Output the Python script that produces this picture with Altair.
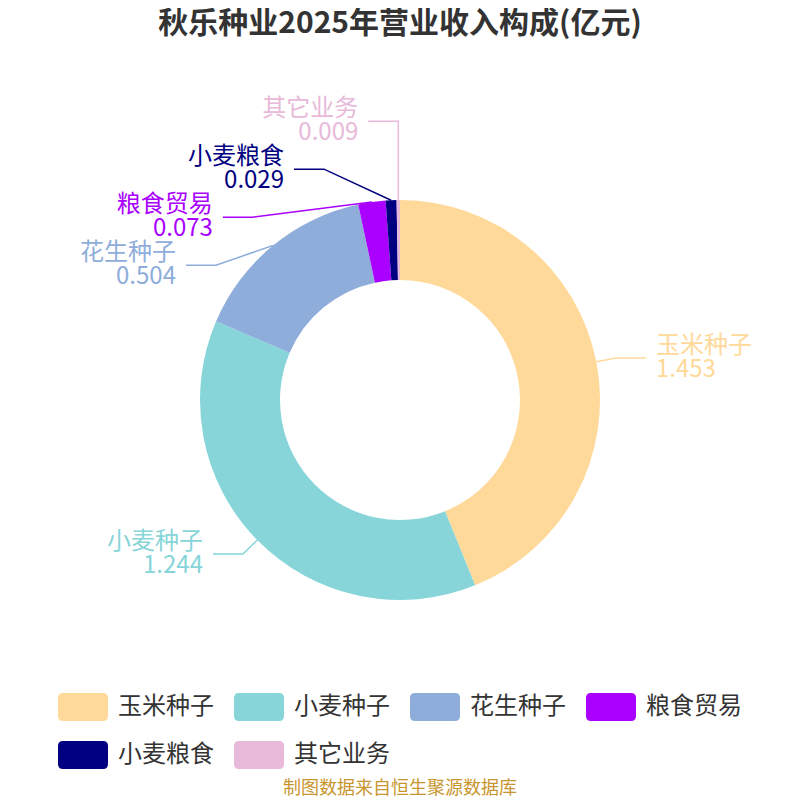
import math
import altair as alt
import pandas as pd

# ---- data ----
categories = ["玉米种子", "小麦种子", "花生种子", "粮食贸易", "小麦粮食", "其它业务"]
values = [1.453, 1.244, 0.504, 0.073, 0.029, 0.009]
colors = ["#FFD999", "#87D5D9", "#8EADDB", "#AA00FF", "#000080", "#E8B9D9"]
title_text = "秋乐种业2025年营业收入构成(亿元)"
source_text = "制图数据来自恒生聚源数据库"

FONT = "Noto Sans CJK SC"
W, H = 784, 792
CX, CY = 392, 392
R_OUT, R_IN = 200, 120
L1, L2, GAP = 20, 30, 10
LABEL_H = 48
ELL_A, ELL_B = 220, 246
FS = 24
LH = 24

df = pd.DataFrame({"cat": categories, "value": values, "idx": range(len(values))})

# ---- label layout (derived from the values) ----
total = sum(values)
cum = 0.0
items = []
for i, (c, v) in enumerate(zip(categories, values)):
    mid = (cum + v / 2) / total * 2 * math.pi
    cum += v
    sx, sy = math.sin(mid), -math.cos(mid)
    items.append({
        "cat": c, "idx": i, "label": f"{c}\n{v:.3f}",
        "side": "right" if sx >= 0 else "left",
        "x0": CX + R_OUT * sx, "y0": CY + R_OUT * sy,
        "xr": CX + (R_OUT + L1) * sx, "yn": CY + (R_OUT + L1) * sy,
    })

def shift(side_items):
    side_items.sort(key=lambda d: d["yn"])
    clusters = [[d] for d in side_items]
    def place(cl):
        m = sum(d["yn"] for d in cl) / len(cl)
        n = len(cl)
        for k, d in enumerate(cl):
            d["y"] = m + (k - (n - 1) / 2) * LABEL_H
    for cl in clusters:
        place(cl)
    merged = True
    while merged:
        merged = False
        for k in range(len(clusters) - 1):
            if clusters[k][-1]["y"] + LABEL_H > clusters[k + 1][0]["y"]:
                clusters[k] = clusters[k] + clusters[k + 1]
                del clusters[k + 1]
                place(clusters[k])
                merged = True
                break

for s in ("left", "right"):
    shift([d for d in items if d["side"] == s])

for d in items:
    d_sign = 1 if d["side"] == "right" else -1
    if abs(d["y"] - d["yn"]) > 0.5:
        dy = d["y"] - CY
        dx = ELL_A * math.sqrt(max(0.0, 1 - (dy / ELL_B) ** 2))
        x1 = CX + d_sign * dx
        x1 = max(x1, d["x0"]) if d_sign > 0 else min(x1, d["x0"])
    else:
        x1 = d["xr"]
    d["x1"] = x1
    d["x2"] = x1 + d_sign * L2
    d["tx"] = d["x2"] + d_sign * GAP

lines = []
for d in items:
    lines += [
        {"cat": d["cat"], "step": 0, "px": d["x0"], "py": d["y0"]},
        {"cat": d["cat"], "step": 1, "px": d["x1"], "py": d["y"]},
        {"cat": d["cat"], "step": 2, "px": d["x2"], "py": d["y"]},
    ]
df_lines = pd.DataFrame(lines)
df_lab = pd.DataFrame([{k: d[k] for k in ("cat", "label", "side", "tx", "y")} for d in items])

color_scale = alt.Scale(domain=categories, range=colors)
rounded = ("M-0.8,-0.56 L0.8,-0.56 Q1,-0.56 1,-0.36 L1,0.36 Q1,0.56 0.8,0.56 "
           "L-0.8,0.56 Q-1,0.56 -1,0.36 L-1,-0.36 Q-1,-0.56 -0.8,-0.56 Z")

donut = alt.Chart(df).mark_arc(innerRadius=R_IN, outerRadius=R_OUT).encode(
    x=alt.value(CX),
    y=alt.value(CY),
    theta=alt.Theta("value:Q", stack=True),
    color=alt.Color("cat:N", scale=color_scale, sort=categories,
                    legend=alt.Legend(orient="none", legendX=50, legendY=674,
                                      direction="horizontal",
                                      columns=4, title=None, symbolType=rounded,
                                      symbolSize=2500, symbolStrokeWidth=0,
                                      symbolOpacity=1, labelFontSize=FS,
                                      labelFont=FONT, labelColor="#333333",
                                      labelOffset=10, columnPadding=20,
                                      rowPadding=9, padding=0)),
    order=alt.Order("idx:Q"),
)

leader = alt.Chart(df_lines).mark_line(strokeWidth=1.5).encode(
    x=alt.X("px:Q", scale=None),
    y=alt.Y("py:Q", scale=None),
    color=alt.Color("cat:N", scale=color_scale, legend=None),
    detail="cat:N",
    order="step:Q",
)

def label_layer(side, align):
    return alt.Chart(df_lab[df_lab["side"] == side]).mark_text(
        align=align, baseline="middle", fontSize=FS, lineHeight=LH,
        font=FONT, lineBreak="\n", dy=-LH / 2,
    ).encode(
        x=alt.X("tx:Q", scale=None),
        y=alt.Y("y:Q", scale=None),
        text="label:N",
        color=alt.Color("cat:N", scale=color_scale, legend=None),
    )

title = alt.Chart(pd.DataFrame({"t": [title_text]})).mark_text(
    fontSize=30, fontWeight="bold", font=FONT, color="#333333", baseline="middle"
).encode(x=alt.value(CX), y=alt.value(16), text="t:N")

source = alt.Chart(pd.DataFrame({"t": [source_text]})).mark_text(
    fontSize=18, font=FONT, color="#C8962E", baseline="middle"
).encode(x=alt.value(CX), y=alt.value(781), text="t:N")

chart = alt.layer(
    donut, leader, label_layer("left", "right"), label_layer("right", "left"), title, source
).properties(width=W, height=H, autosize="none", padding=0).configure_view(stroke=None)

chart.save("out.html", embed_options={"renderer": "svg", "actions": False})
